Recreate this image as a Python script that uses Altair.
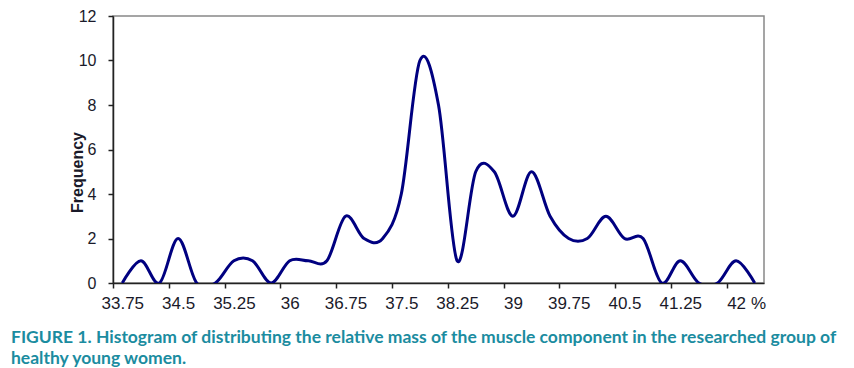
import altair as alt
import pandas as pd

# categories (relative muscle mass, %) and frequencies
x_values = [33.75, 34.0, 34.25, 34.5, 34.75, 35.0, 35.25, 35.5, 35.75, 36.0,
            36.25, 36.5, 36.75, 37.0, 37.25, 37.5, 37.75, 38.0, 38.25, 38.5,
            38.75, 39.0, 39.25, 39.5, 39.75, 40.0, 40.25, 40.5, 40.75, 41.0,
            41.25, 41.5, 41.75, 42.0, 42.25]
frequency = [0, 1, 0, 2, 0, 0, 1, 1, 0, 1,
             1, 1, 3, 2, 2, 4, 10, 8, 1, 5,
             5, 3, 5, 3, 2, 2, 3, 2, 2, 0,
             1, 0, 0, 1, 0]
tick_labels = ["33.75", "34.5", "35.25", "36", "36.75", "37.5", "38.25",
               "39", "39.75", "40.5", "41.25", "42"]
y_ticks = [0, 2, 4, 6, 8, 10, 12]

caption = ["FIGURE 1. Histogram of distributing the relative mass of the muscle component in the researched group of",
           "healthy young women."]

df = pd.DataFrame({"x": x_values, "f": frequency})

W, H = 651, 267
half = 0.125
domain = [x_values[0] - half, x_values[-1] + half]
tick_pos = [float(t) - half for t in tick_labels]
px_per_unit = W / (domain[1] - domain[0])
FONT = "Arial, Liberation Sans, Helvetica, sans-serif"

chart = alt.Chart(df).mark_line(
    interpolate="cardinal", color="#000080", strokeWidth=3, clip=True
).encode(
    x=alt.X("x:Q",
            scale=alt.Scale(domain=domain, nice=False, zero=False),
            axis=alt.Axis(values=tick_pos,
                          labelExpr="format(datum.value + 0.125, '~g')",
                          labelOffset=half * px_per_unit,
                          title="%", titleX=645, titleY=20,
                          titleAlign="center", titleBaseline="middle",
                          titleFontWeight="normal", titleFontSize=17,
                          titleFont=FONT, titleColor="#1a1a2a",
                          grid=False, tickSize=5, labelPadding=7,
                          labelFontSize=17, labelFont=FONT,
                          labelColor="#1a1a2a", domainColor="#222",
                          tickColor="#222", domainWidth=1.5, tickWidth=1.5,
                          labelFlush=False, labelOverlap=False)),
    y=alt.Y("f:Q",
            scale=alt.Scale(domain=[0, 12], nice=False),
            axis=alt.Axis(values=y_ticks, title="Frequency",
                          titleFont=FONT, titleFontSize=16,
                          titleFontWeight="bold", titleColor="#1a1a2a",
                          titleX=-36, titleY=156, titleAngle=270,
                          titleAlign="center", titleBaseline="middle",
                          grid=False, tickSize=5, labelPadding=12,
                          labelFontSize=16, labelFont=FONT,
                          labelColor="#1a1a2a", domainColor="#222",
                          tickColor="#222", domainWidth=1.5, tickWidth=1.5)),
).properties(
    width=W, height=H,
    autosize=alt.AutoSizeParams(type="none"),
    padding={"left": 105, "top": 8, "right": 82, "bottom": 90},
    title=alt.TitleParams(
        text=caption, orient="bottom", anchor="start", frame="group",
        dx=-102, offset=18, font="Lato",
        fontSize=17.5, fontWeight="bold", color="#1b8ca0", lineHeight=21),
).configure_view(stroke="#888", strokeWidth=1.5)

chart.save("out.html", embed_options={"renderer": "svg", "actions": False})
